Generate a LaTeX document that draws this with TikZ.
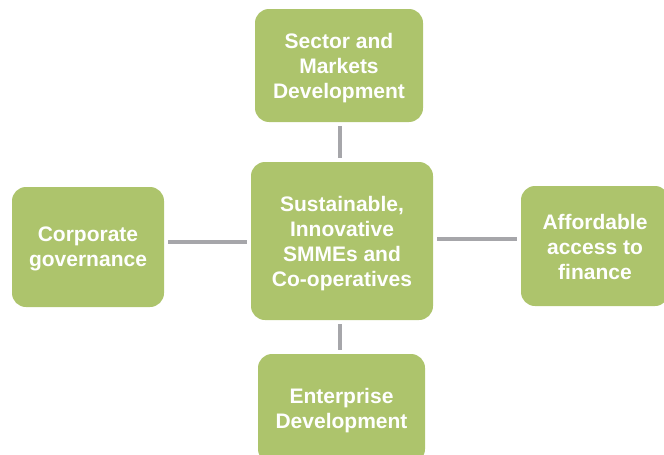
\documentclass[tikz,border=0pt]{standalone}
\usepackage{fontspec}
\setmainfont{Liberation Sans}
\begin{document}
\definecolor{boxgreen}{RGB}{173,196,108}
\definecolor{linkgray}{RGB}{166,166,170}
\begin{tikzpicture}[x=1pt,y=-1pt,
  block/.style={fill=boxgreen, rounded corners=14pt, inner sep=0pt},
  caption/.style={inner sep=0pt, text=white, align=center,
    font=\fontsize{21}{25}\selectfont\bfseries},
  link/.style={draw=linkgray, line width=4pt, shorten <=4pt, shorten >=4pt}]
\useasboundingbox (0,0) rectangle (664,455);
\clip (0,0) rectangle (664,455);
% central theme
\node[block, minimum width=182pt, minimum height=158pt] (mid) at (342,241) {};
\node[caption] (mid-t) at ([yshift=-3pt]mid.center)
  {Sustainable,\\Innovative\\SMMEs and\\Co-operatives};
% surrounding pillars
\node[block, minimum width=168pt, minimum height=113pt] (top) at (339,65.5) {};
\node[caption] (top-t) at ([yshift=-3pt]top.center)
  {Sector and\\Markets\\Development};
\node[block, minimum width=152pt, minimum height=120pt] (left) at (88,247) {};
\node[caption] (left-t) at ([yshift=-2pt]left.center)
  {Corporate\\governance};
\node[block, minimum width=148pt, minimum height=120pt] (right) at (595,246) {};
\node[caption] (right-t) at ([yshift=-1pt]right.center)
  {Affordable\\access to\\finance};
\node[block, minimum width=167pt, minimum height=109pt] (bottom) at (341.5,408.5) {};
\node[caption] (bottom-t) at ([yshift=-2pt]bottom.center)
  {Enterprise\\Development};
% connectors
\draw[link] ([xshift=1pt]top.south) -- ([xshift=1pt]top.south |- mid.north);
\draw[link] ([yshift=-0.5pt]left.east |- mid.west) -- ([yshift=-0.5pt]mid.west);
\draw[link] ([yshift=2pt]mid.east) -- ([yshift=2pt]mid.east -| right.west);
\draw[link] ([xshift=-2pt]mid.south) -- ([xshift=-2pt]mid.south |- bottom.north);
\end{tikzpicture}
\end{document}
